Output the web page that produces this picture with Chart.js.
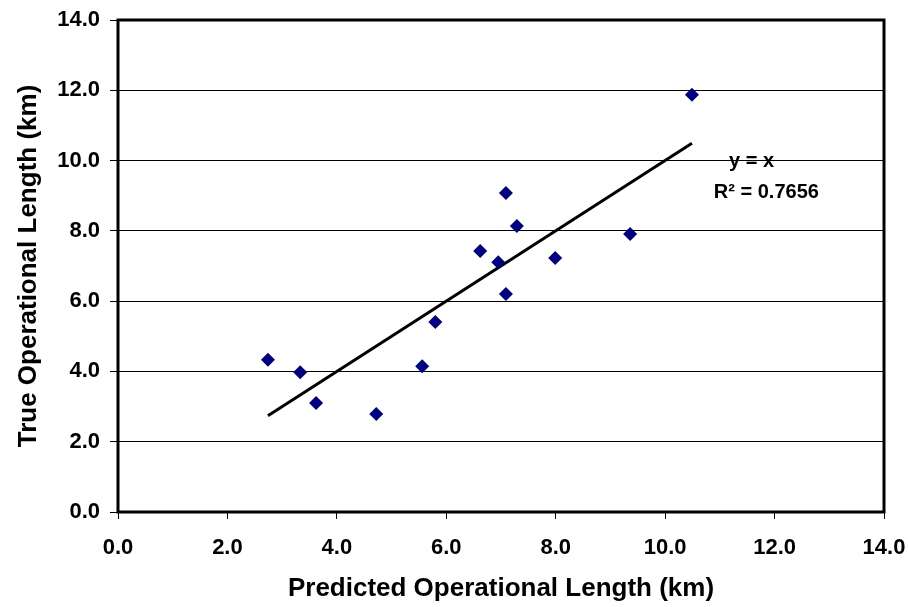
<!DOCTYPE html>
<html>
<head>
<meta charset="utf-8">
<script src="https://cdn.jsdelivr.net/npm/chart.js@4.4.0/dist/chart.umd.min.js"></script>
<style>
  html, body { margin: 0; padding: 0; background: #fff; }
  #wrap { width: 908px; height: 607px; }
</style>
</head>
<body>
<div id="wrap"><canvas id="scatter-chart" width="908" height="607"></canvas></div>
<script>
// valores
const predicted = [2.74, 3.33, 3.62, 4.72, 5.56, 5.80, 6.62, 6.95, 7.09, 7.09, 7.29, 7.99, 9.36, 10.49];
const trueLength = [4.33, 3.98, 3.10, 2.79, 4.15, 5.41, 7.43, 7.11, 9.08, 6.20, 8.14, 7.23, 7.91, 11.87];
const axisTicks = [0, 2, 4, 6, 8, 10, 12, 14];
const trendText = ['y = x', 'R² = 0.7656'];

const FONT = '"Liberation Sans", Arial, Helvetica, sans-serif';

// linea y = x entre el menor y el mayor valor predicho
const minX = Math.min(...predicted);
const maxX = Math.max(...predicted);
const trendPoints = [{ x: minX, y: minX }, { x: maxX, y: maxX }];

const frameAndText = {
    id: 'frameAndText',
    afterDatasetsDraw(chart) {
        const { ctx, chartArea, scales } = chart;
        ctx.save();
        // marco grueso del area
        ctx.strokeStyle = '#000';
        ctx.lineWidth = 3;
        ctx.strokeRect(chartArea.left, chartArea.top, chartArea.right - chartArea.left, chartArea.bottom - chartArea.top);
        // texto de la linea de tendencia
        ctx.fillStyle = '#000';
        ctx.font = 'bold 20px ' + FONT;
        ctx.textAlign = 'center';
        ctx.textBaseline = 'middle';
        ctx.fillText(trendText[0], scales.x.getPixelForValue(11.58), scales.y.getPixelForValue(9.98));
        ctx.fillText(trendText[1], scales.x.getPixelForValue(11.85), scales.y.getPixelForValue(9.1));
        ctx.restore();
    }
};

const ctx = document.getElementById('scatter-chart').getContext('2d');
new Chart(ctx, {
    type: 'scatter',
    data: {
        datasets: [{
            label: 'Datos',
            data: predicted.map((p, i) => ({ x: p, y: trueLength[i] })),
            pointStyle: 'rectRot',
            pointRadius: 7,
            pointHoverRadius: 7,
            backgroundColor: '#000080',
            borderColor: '#000080',
            borderWidth: 0
        }, {
            label: 'Tendencia',
            type: 'line',
            data: trendPoints,
            borderColor: '#000',
            borderWidth: 3,
            pointRadius: 0,
            fill: false
        }]
    },
    options: {
        responsive: false,
        animation: false,
        layout: { padding: { top: 20, right: 24, left: 0, bottom: 3 } },
        plugins: {
            legend: { display: false },
            tooltip: { enabled: false }
        },
        scales: {
            x: {
                type: 'linear',
                min: 0,
                max: 14,
                afterBuildTicks: scale => { scale.ticks = axisTicks.map(v => ({ value: v })); },
                afterFit: scale => {
                    scale.height = 92;
                    scale.paddingLeft = 0;
                    scale.paddingRight = 0;
                },
                border: { display: false },
                grid: { drawOnChartArea: false, drawTicks: true, tickLength: 7, color: '#000', lineWidth: 1 },
                ticks: {
                    color: '#000',
                    padding: 16,
                    font: { family: FONT, size: 22, weight: 'bold' },
                    callback: v => v.toFixed(1)
                },
                title: {
                    display: true,
                    text: 'Predicted Operational Length (km)',
                    color: '#000',
                    padding: { top: 11, bottom: 0 },
                    font: { family: FONT, size: 26, weight: 'bold' }
                }
            },
            y: {
                type: 'linear',
                min: 0,
                max: 14,
                afterBuildTicks: scale => { scale.ticks = axisTicks.map(v => ({ value: v })); },
                afterFit: scale => {
                    scale.width = 118;
                    scale.paddingTop = 0;
                    scale.paddingBottom = 0;
                },
                border: { display: false },
                grid: { drawTicks: true, tickLength: 8, color: '#000', lineWidth: 1 },
                ticks: {
                    color: '#000',
                    padding: 10,
                    font: { family: FONT, size: 22, weight: 'bold' },
                    callback: v => v.toFixed(1)
                },
                title: {
                    display: true,
                    text: 'True Operational Length (km)',
                    color: '#000',
                    padding: { top: 13, bottom: 0 },
                    font: { family: FONT, size: 26, weight: 'bold' }
                }
            }
        }
    },
    plugins: [frameAndText]
});
</script>
</body>
</html>
